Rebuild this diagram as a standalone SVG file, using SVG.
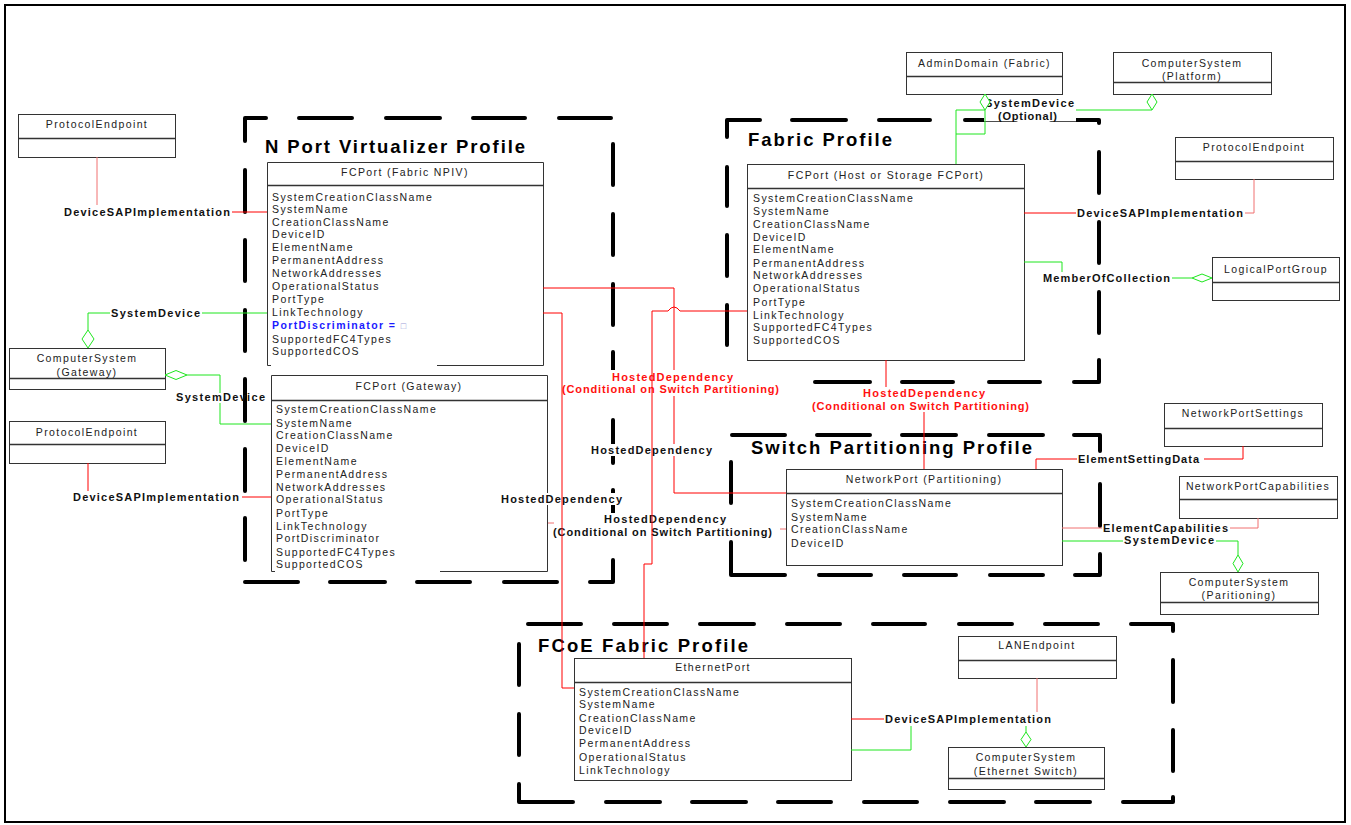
<svg xmlns="http://www.w3.org/2000/svg" width="1351" height="825" viewBox="0 0 1351 825">
<style>
.frame{fill:#fff;stroke:#000;stroke-width:2}
.prof{fill:none;stroke:#000;stroke-width:4;stroke-linecap:round;stroke-linejoin:round}
.box{fill:#fff;stroke:#333;stroke-width:1}
.edge{fill:none;stroke:#333;stroke-width:1}
.dv{stroke:#333;stroke-width:1.4}
.ct{font-family:"Liberation Sans",Arial,sans-serif;font-size:10.5px;letter-spacing:1.4px;fill:#222}
.hc{text-anchor:middle}
.blue{fill:#1a1aff;font-weight:bold}
.sq{fill:#9aa0d8;font-weight:normal;font-size:9px}
.lbl{font-family:"Liberation Sans",Arial,sans-serif;font-size:11px;font-weight:bold;fill:#111}
.rl{fill:#ff1010}
.title{font-family:"Liberation Sans",Arial,sans-serif;font-size:18.5px;font-weight:bold;fill:#000}
.bg{fill:#fff}
.r{fill:none;stroke:#ff0000;stroke-width:1}
.p{fill:none;stroke:#f07070;stroke-width:1}
.g{fill:none;stroke:#1ee61e;stroke-width:1}
.dia{fill:#fff;stroke:#1ee61e;stroke-width:1}
</style>
<rect class="frame" x="5" y="5" width="1340" height="817"/>

<g id="profiles">
<path class="prof" d="M245,141 V118 H266 M299,118 H352 M386,118 H440 M473,118 H525 M559,118 H611 M613,144 V185 M613,214 V255 M613,284 V325 M613,352 V393 M613,420 V463 M613,490 V531 M590,582 H613 V560 M504,582 H557 M417,582 H470 M330,582 H385 M245,582 H298 M245,170 V212 M245,240 V281 M245,310 V351 M245,379 V421 M245,449 V491 M245,518 V560"/>
<path class="prof" d="M727,137 V120 H760 M792,120 H846 M879,120 H930 M965,120 H1016 M1051,120 H1099 V123 M1099,152 V193 M1099,222 V263 M1099,292 V333 M1099,360 V382 H1074 M989,382 H1040 M902,382 H953 M815,382 H870 M727,167 V206 M727,235 V276 M727,305 V345"/>
<path class="prof" d="M732,435 H785 M817,435 H870 M902,435 H956 M989,435 H1043 M1074,435 H1100 V451 M1100,484 V526 M1100,554 V575 H1075 M990,575 H1043 M904,575 H956 M819,575 H871 M731,542 V575 H785 M731,462 V503"/>
<path class="prof" d="M528,624 H581 M614,624 H667 M700,624 H754 M787,624 H840 M873,624 H925 M959,624 H1012 M1045,624 H1098 M1131,624 H1173 V631 M1173,660 V702 M1173,730 V771 M1123,802 H1173 V797 M1036,802 H1090 M950,802 H1004 M864,802 H917 M778,802 H831 M692,802 H746 M606,802 H660 M519,784 V802 H573 M519,644 V685 M519,714 V755"/>
<text class="title" x="265" y="153" textLength="260" lengthAdjust="spacing">N Port Virtualizer Profile</text>
<text class="title" x="748" y="146" textLength="144" lengthAdjust="spacing">Fabric Profile</text>
<text class="title" x="751" y="454" textLength="281" lengthAdjust="spacing">Switch Partitioning Profile</text>
<text class="title" x="538" y="652" textLength="210" lengthAdjust="spacing">FCoE Fabric Profile</text>
</g>

<g id="pe1">
<rect class="box" x="18.5" y="114.5" width="157" height="43"/>
<line class="dv" x1="18.5" y1="138.5" x2="175.5" y2="138.5"/>
<text class="ct hc" x="97" y="128">ProtocolEndpoint</text>
</g>
<g id="csGateway">
<rect class="box" x="9.5" y="348.5" width="156" height="41"/>
<line class="dv" x1="9.5" y1="378.5" x2="165.5" y2="378.5"/>
<text class="ct hc" x="87" y="362">ComputerSystem</text>
<text class="ct hc" x="87" y="375.5">(Gateway)</text>
</g>
<g id="pe2">
<rect class="box" x="9.5" y="421.5" width="156" height="42"/>
<line class="dv" x1="9.5" y1="444.5" x2="165.5" y2="444.5"/>
<text class="ct hc" x="87" y="435.5">ProtocolEndpoint</text>
</g>

<g id="fcNPIV">
<rect x="267.5" y="162.5" width="276" height="203" fill="#fff"/>
<path class="edge" d="M271,365.5 H267.5 V162.5 H543.5 V365.5 H437"/>
<line class="dv" x1="267.5" y1="185.5" x2="543.5" y2="185.5"/>
<text class="ct hc" x="405" y="175.5">FCPort (Fabric NPIV)</text>
<text class="ct">
<tspan x="272" y="200.5">SystemCreationClassName</tspan>
<tspan x="272" y="212.5">SystemName</tspan>
<tspan x="272" y="226">CreationClassName</tspan>
<tspan x="272" y="238">DeviceID</tspan>
<tspan x="272" y="251">ElementName</tspan>
<tspan x="272" y="264">PermanentAddress</tspan>
<tspan x="272" y="277">NetworkAddresses</tspan>
<tspan x="272" y="290">OperationalStatus</tspan>
<tspan x="272" y="303">PortType</tspan>
<tspan x="272" y="316">LinkTechnology</tspan>
<tspan x="272" y="328.5" class="blue">PortDiscriminator = <tspan class="sq">□</tspan></tspan>
<tspan x="272" y="342.5">SupportedFC4Types</tspan>
<tspan x="272" y="355">SupportedCOS</tspan>
</text>
</g>

<g id="fcGateway">
<rect x="271.5" y="375.5" width="276" height="196" fill="#fff"/>
<path class="edge" d="M275,571.5 H271.5 V375.5 H547.5 V571.5 H440"/>
<line class="dv" x1="271.5" y1="400.5" x2="547.5" y2="400.5"/>
<text class="ct hc" x="409" y="389.5">FCPort (Gateway)</text>
<text class="ct">
<tspan x="276" y="413">SystemCreationClassName</tspan>
<tspan x="276" y="427">SystemName</tspan>
<tspan x="276" y="439">CreationClassName</tspan>
<tspan x="276" y="452">DeviceID</tspan>
<tspan x="276" y="465">ElementName</tspan>
<tspan x="276" y="478">PermanentAddress</tspan>
<tspan x="276" y="491">NetworkAddresses</tspan>
<tspan x="276" y="503">OperationalStatus</tspan>
<tspan x="276" y="517">PortType</tspan>
<tspan x="276" y="529.5">LinkTechnology</tspan>
<tspan x="276" y="542">PortDiscriminator</tspan>
<tspan x="276" y="555.5">SupportedFC4Types</tspan>
<tspan x="276" y="568">SupportedCOS</tspan>
</text>
</g>

<g id="adminDomain">
<rect class="box" x="906.5" y="52.5" width="156" height="42"/>
<line class="dv" x1="906.5" y1="76.5" x2="1062.5" y2="76.5"/>
<text class="ct hc" x="984.5" y="66.5">AdminDomain (Fabric)</text>
</g>
<g id="csPlatform">
<rect class="box" x="1113.5" y="52.5" width="158" height="42"/>
<line class="dv" x1="1113.5" y1="82.5" x2="1271.5" y2="82.5"/>
<text class="ct hc" x="1192" y="66.8">ComputerSystem</text>
<text class="ct hc" x="1192" y="79.8">(Platform)</text>
</g>

<g id="fcHost">
<rect class="box" x="747.5" y="164.5" width="277" height="196"/>
<line class="dv" x1="747.5" y1="188.5" x2="1024.5" y2="188.5"/>
<text class="ct hc" x="886" y="179">FCPort (Host or Storage FCPort)</text>
<text class="ct">
<tspan x="753" y="202">SystemCreationClassName</tspan>
<tspan x="753" y="214.5">SystemName</tspan>
<tspan x="753" y="228">CreationClassName</tspan>
<tspan x="753" y="241">DeviceID</tspan>
<tspan x="753" y="253">ElementName</tspan>
<tspan x="753" y="267">PermanentAddress</tspan>
<tspan x="753" y="279">NetworkAddresses</tspan>
<tspan x="753" y="292">OperationalStatus</tspan>
<tspan x="753" y="306">PortType</tspan>
<tspan x="753" y="318.5">LinkTechnology</tspan>
<tspan x="753" y="331">SupportedFC4Types</tspan>
<tspan x="753" y="344">SupportedCOS</tspan>
</text>
</g>

<g id="pe3">
<rect class="box" x="1175.5" y="137.5" width="158" height="42"/>
<line class="dv" x1="1175.5" y1="161.5" x2="1333.5" y2="161.5"/>
<text class="ct hc" x="1254" y="151">ProtocolEndpoint</text>
</g>
<g id="logicalPortGroup">
<rect class="box" x="1212.5" y="257.5" width="127" height="43"/>
<line class="dv" x1="1212.5" y1="282.5" x2="1339.5" y2="282.5"/>
<text class="ct hc" x="1276" y="273">LogicalPortGroup</text>
</g>
<g id="networkPortSettings">
<rect class="box" x="1164.5" y="403.5" width="158" height="43"/>
<line class="dv" x1="1164.5" y1="428.5" x2="1322.5" y2="428.5"/>
<text class="ct hc" x="1243" y="417">NetworkPortSettings</text>
</g>
<g id="networkPortCapabilities">
<rect class="box" x="1179.5" y="476.5" width="158" height="42"/>
<line class="dv" x1="1179.5" y1="499.5" x2="1337.5" y2="499.5"/>
<text class="ct hc" x="1258" y="489.5">NetworkPortCapabilities</text>
</g>
<g id="csPartitioning">
<rect class="box" x="1160.5" y="572.5" width="158" height="42"/>
<line class="dv" x1="1160.5" y1="602.5" x2="1318.5" y2="602.5"/>
<text class="ct hc" x="1239" y="585.5">ComputerSystem</text>
<text class="ct hc" x="1239" y="599">(Paritioning)</text>
</g>

<g id="networkPort">
<rect class="box" x="786.5" y="469.5" width="276" height="96"/>
<line class="dv" x1="786.5" y1="493.5" x2="1062.5" y2="493.5"/>
<text class="ct hc" x="924" y="483">NetworkPort (Partitioning)</text>
<text class="ct">
<tspan x="791" y="506.5">SystemCreationClassName</tspan>
<tspan x="791" y="520.5">SystemName</tspan>
<tspan x="791" y="533">CreationClassName</tspan>
<tspan x="791" y="546.5">DeviceID</tspan>
</text>
</g>

<g id="ethernetPort">
<rect class="box" x="574.5" y="658.5" width="277" height="122"/>
<line class="dv" x1="574.5" y1="682.5" x2="851.5" y2="682.5"/>
<text class="ct hc" x="713" y="671">EthernetPort</text>
<text class="ct">
<tspan x="579" y="696">SystemCreationClassName</tspan>
<tspan x="579" y="708">SystemName</tspan>
<tspan x="579" y="722">CreationClassName</tspan>
<tspan x="579" y="734">DeviceID</tspan>
<tspan x="579" y="747">PermanentAddress</tspan>
<tspan x="579" y="761">OperationalStatus</tspan>
<tspan x="579" y="774">LinkTechnology</tspan>
</text>
</g>

<g id="lanEndpoint">
<rect class="box" x="958.5" y="636.5" width="158" height="42"/>
<line class="dv" x1="958.5" y1="660.5" x2="1116.5" y2="660.5"/>
<text class="ct hc" x="1037" y="649">LANEndpoint</text>
</g>
<g id="csEthernetSwitch">
<rect class="box" x="948.5" y="747.5" width="156" height="42"/>
<line class="dv" x1="948.5" y1="778.5" x2="1104.5" y2="778.5"/>
<text class="ct hc" x="1026" y="761">ComputerSystem</text>
<text class="ct hc" x="1026" y="774.5">(Ethernet Switch)</text>
</g>

<g id="labels">
<text class="lbl" x="64" y="215.7" textLength="166" lengthAdjust="spacing">DeviceSAPImplementation</text>
<text class="lbl" x="111" y="317" textLength="89" lengthAdjust="spacing">SystemDevice</text>
<text class="lbl" x="176" y="401" textLength="89" lengthAdjust="spacing">SystemDevice</text>
<text class="lbl" x="73" y="501" textLength="166" lengthAdjust="spacing">DeviceSAPImplementation</text>
<rect class="bg" x="561" y="370" width="219" height="26"/>
<text class="lbl rl" x="612" y="380.7" textLength="121" lengthAdjust="spacing">HostedDependency</text>
<text class="lbl rl" x="562" y="393.3" textLength="217" lengthAdjust="spacing">(Conditional on Switch Partitioning)</text>
<rect class="bg" x="590" y="444" width="124" height="12"/>
<text class="lbl" x="591" y="453.5" textLength="121" lengthAdjust="spacing">HostedDependency</text>
<rect class="bg" x="500" y="493" width="124" height="12"/>
<text class="lbl" x="501" y="502.7" textLength="121" lengthAdjust="spacing">HostedDependency</text>
<rect class="bg" x="552" y="513" width="221" height="25"/>
<text class="lbl" x="604" y="523.3" textLength="122" lengthAdjust="spacing">HostedDependency</text>
<text class="lbl" x="553" y="535.7" textLength="219" lengthAdjust="spacing">(Conditional on Switch Partitioning)</text>
<rect class="bg" x="984" y="95" width="92" height="26.3"/>
<text class="lbl" x="985" y="106.7" textLength="89" lengthAdjust="spacing">SystemDevice</text>
<text class="lbl" x="998" y="120" textLength="59" lengthAdjust="spacing">(Optional)</text>
<text class="lbl" x="1077" y="217.3" textLength="166" lengthAdjust="spacing">DeviceSAPImplementation</text>
<text class="lbl" x="1043" y="282.3" textLength="127" lengthAdjust="spacing">MemberOfCollection</text>
<text class="lbl rl" x="863" y="396.7" textLength="122" lengthAdjust="spacing">HostedDependency</text>
<text class="lbl rl" x="812" y="409.5" textLength="217" lengthAdjust="spacing">(Conditional on Switch Partitioning)</text>
<text class="lbl" x="1078" y="463" textLength="121" lengthAdjust="spacing">ElementSettingData</text>
<text class="lbl" x="1103" y="532" textLength="125" lengthAdjust="spacing">ElementCapabilities</text>
<text class="lbl" x="1124" y="544" textLength="90" lengthAdjust="spacing">SystemDevice</text>
<text class="lbl" x="885" y="723.3" textLength="166" lengthAdjust="spacing">DeviceSAPImplementation</text>
</g>

<g id="connectors">
<path class="p" d="M97,157 V205"/>
<path class="r" d="M232,212 H267"/>
<path class="r" d="M88,463 V491 M242,497 H271"/>
<path class="g" d="M267,313 H202 M110,313 H88 V330"/>
<path class="g" d="M187,375 H220 V393 M220,403 V424 H271"/>
<path class="r" d="M543,288 H674 V370 M674,396 V444 M674,456 V493 H786"/>
<path class="r" d="M543,313 H562 V688 H574"/>
<path class="r" d="M747,311 H680 Q674,303 668,311 H652 V564 H644 V658"/>
<path class="p" d="M548,523 H554 M780,529 H786"/>
<path class="r" d="M886,360 V387 M924,412 V469"/>
<path class="g" d="M956,164 V110 H985 M956,134 H985 V110 M1076,110 H1152"/>
<path class="r" d="M1024,213 H1076"/>
<path class="p" d="M1245,213 H1254 V179"/>
<path class="g" d="M1024,262 H1062 V272 M1172,278 H1192"/>
<path class="r" d="M1036,469 V459 H1077 M1204,459 H1243 V446"/>
<path class="p" d="M1062,528 H1102 M1230,528 H1258 V518"/>
<path class="g" d="M1062,541 H1123 M1216,541 H1238 V555"/>
<path class="r" d="M851,719 H884"/>
<path class="p" d="M1037,678 V712"/>
<path class="g" d="M851,750 H911 V726 M1026,726 V732"/>
<path class="dia" d="M88,330 L94,339 L88,348 L82,339 Z"/>
<path class="dia" d="M165,375 L176,370.5 L187,375 L176,379.5 Z"/>
<path class="dia" d="M985,94 L990,102 L985,110 L980,102 Z"/>
<path class="dia" d="M1152,94 L1157,102 L1152,110 L1147,102 Z"/>
<path class="dia" d="M1192,278 L1202,274 L1212,278 L1202,282 Z"/>
<path class="dia" d="M1238,555 L1243,563.5 L1238,572 L1233,563.5 Z"/>
<path class="dia" d="M1026,732 L1031,739.5 L1026,747 L1021,739.5 Z"/>
</g>
</svg>
